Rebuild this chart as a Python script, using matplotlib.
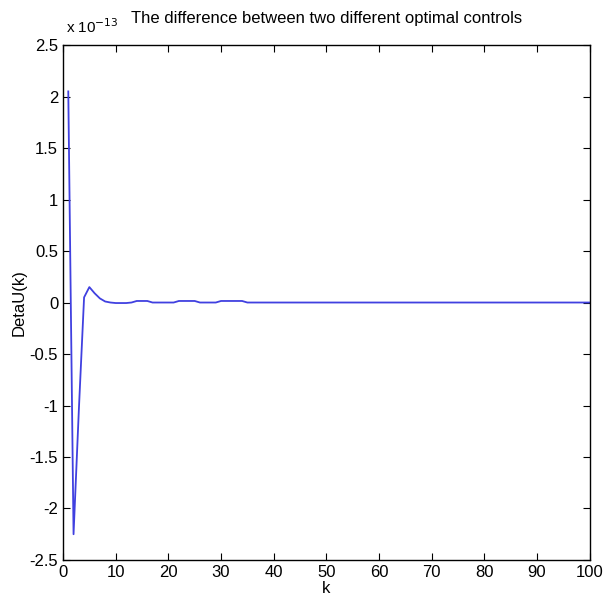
import matplotlib.pyplot as plt
import matplotlib.ticker as mticker
import numpy as np

plt.rcParams['font.family'] = ['Liberation Sans', 'DejaVu Sans']
plt.rcParams['axes.unicode_minus'] = False

# difference in control at each step k (units of 1e-13)
k = np.arange(1, 101)
head = [2.05, -2.25, -1.05, 0.05, 0.15, 0.09, 0.04, 0.01, 0.0, -0.005,
        -0.005, -0.005, 0.0, 0.015, 0.015, 0.015, 0.0, 0.0, 0.0, 0.0,
        0.0, 0.015, 0.015, 0.015, 0.015, 0.0, 0.0, 0.0, 0.0, 0.015,
        0.015, 0.015, 0.015, 0.015]
delta_u = np.array(head + [0.0] * (len(k) - len(head)))

fig = plt.figure(figsize=(6.03, 6.09), dpi=100)
ax = fig.add_axes([0.1045, 0.0805, 0.8735, 0.8455])

ax.plot(k, delta_u, color='#4040e0', linewidth=1.3)

ax.set_xlim(0, 100)
ax.set_ylim(-2.5, 2.5)
ax.set_xticks(np.arange(0, 101, 10))
ax.set_yticks(np.arange(-2.5, 2.51, 0.5))
ax.yaxis.set_major_formatter(mticker.FuncFormatter(lambda v, p: '%g' % round(v, 2)))

ax.tick_params(direction='in', top=True, right=True, labelsize=12, length=5)
for s in ax.spines.values():
    s.set_linewidth(1.0)

# exponent label above the y axis
ax.text(0.005, 1.018, r'x 10$^{-13}$', transform=ax.transAxes, fontsize=11,
        ha='left', va='bottom')

ax.set_xlabel('k', fontsize=12, labelpad=1)
ax.set_ylabel('DetaU(k)', fontsize=12, labelpad=2)
ax.set_title('The difference between two different optimal controls', fontsize=12, pad=16)

plt.savefig('out.png', dpi=100)
